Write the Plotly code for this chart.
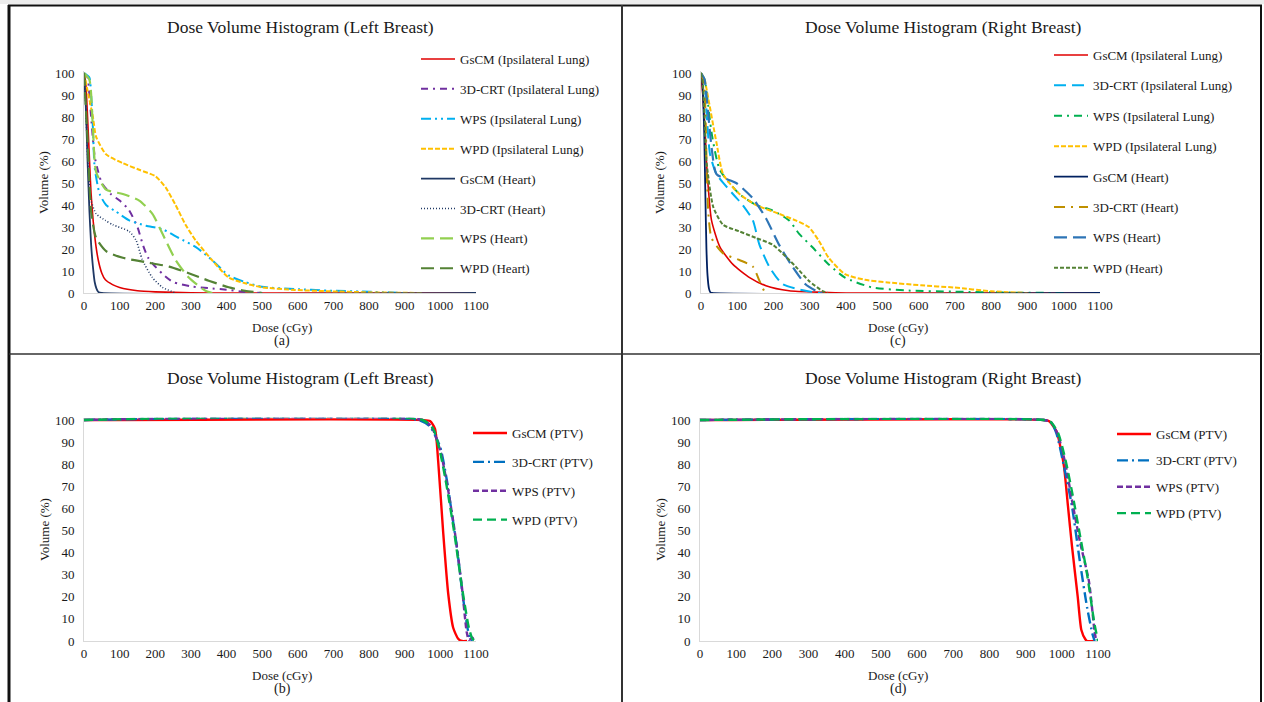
import plotly.graph_objects as go

# ---------------- DATA ----------------
ticks_dose = [0, 100, 200, 300, 400, 500, 600, 700, 800, 900, 1000, 1100]
ticks_vol = [0, 10, 20, 30, 40, 50, 60, 70, 80, 90, 100]

titles = ["Dose Volume Histogram (Left Breast)", "Dose Volume Histogram (Right Breast)",
          "Dose Volume Histogram (Left Breast)", "Dose Volume Histogram (Right Breast)"]
panel_labels = ["(a)", "(c)", "(b)", "(d)"]

names_oar = ["GsCM (Ipsilateral Lung)", "3D-CRT (Ipsilateral Lung)", "WPS (Ipsilateral Lung)",
             "WPD (Ipsilateral Lung)", "GsCM (Heart)", "3D-CRT (Heart)", "WPS (Heart)", "WPD (Heart)"]
names_ptv = ["GsCM (PTV)", "3D-CRT (PTV)", "WPS (PTV)", "WPD (PTV)"]

# (a) left breast, organs at risk
a_gscm_lung_dose = [0, 5, 10, 15, 20, 30, 40, 50, 60, 80, 100, 150, 200, 300, 400, 1100]
a_gscm_lung_vol = [100, 95, 80, 62, 45, 26, 15, 9, 6, 3.8, 2.5, 1, 0.5, 0.1, 0, 0]
a_3dcrt_lung_dose = [0, 10, 15, 20, 25, 30, 40, 50, 75, 100, 125, 150, 165, 180, 200, 225, 250, 300, 350, 400, 450, 500]
a_3dcrt_lung_vol = [100, 98, 90, 80, 70, 62, 55, 50, 45, 42, 38, 30, 22, 16, 12, 8, 5, 3, 2.2, 1.5, 0.5, 0]
a_wps_lung_dose = [0, 15, 20, 25, 30, 44, 62, 90, 127, 174, 220, 266, 313, 359, 406, 452, 499, 592, 684, 800, 900]
a_wps_lung_vol = [100, 98, 90, 75, 57, 45, 40, 37, 33, 30.6, 29, 25, 21, 15, 8, 5, 2.8, 1.8, 1.1, 0.6, 0]
a_wpd_lung_dose = [0, 10, 25, 34, 62, 109, 155, 201, 229, 257, 285, 313, 359, 406, 452, 499, 592, 684, 800, 950]
a_wpd_lung_vol = [100, 92, 80, 71, 63, 59, 56, 53, 48, 40, 31, 24, 15, 7, 4.4, 2.6, 1.4, 0.8, 0.3, 0]
a_gscm_heart_dose = [0, 5, 10, 15, 20, 25, 30, 35, 40, 50, 1100]
a_gscm_heart_vol = [100, 85, 60, 38, 22, 12, 5, 2, 0.5, 0, 0]
a_3dcrt_heart_dose = [0, 5, 11, 20, 34, 60, 81, 127, 146, 164, 192, 220, 257]
a_3dcrt_heart_vol = [100, 85, 60, 42, 36, 33, 31, 28, 24, 15, 7, 2.6, 0]
a_wps_heart_dose = [0, 15, 25, 34, 62, 109, 155, 192, 220, 257, 294, 341, 360]
a_wps_heart_vol = [100, 97, 75, 55, 47, 45, 42, 36, 27, 15, 7, 1, 0]
a_wpd_heart_dose = [0, 10, 20, 34, 62, 109, 174, 239, 294, 350, 406, 452, 500]
a_wpd_heart_vol = [100, 70, 37, 25, 19, 16, 14, 12, 9, 5.6, 2.6, 1, 0]

# (c) right breast, organs at risk
c_gscm_lung_dose = [0, 5, 11, 15, 20, 29, 52, 88, 134, 179, 243, 334, 400, 1100]
c_gscm_lung_vol = [100, 90, 75, 60, 48, 33, 21, 13, 7, 3.3, 1, 0.3, 0, 0]
c_3dcrt_lung_dose = [0, 10, 15, 25, 43, 88, 115, 143, 161, 188, 225, 288, 330]
c_3dcrt_lung_vol = [100, 95, 83, 63, 54, 45, 40, 33, 22, 12, 4, 1, 0]
c_wps_lung_dose = [0, 10, 15, 30, 52, 106, 152, 197, 243, 270, 306, 352, 397, 470, 561, 700, 850, 1000]
c_wps_lung_vol = [100, 97, 92, 72, 56, 45, 40, 37.5, 33, 27, 21, 13, 7, 2.6, 1.2, 0.6, 0.2, 0]
c_wpd_lung_dose = [0, 10, 15, 43, 61, 106, 152, 215, 261, 297, 324, 352, 397, 452, 515, 606, 697, 800, 900]
c_wpd_lung_vol = [100, 97, 93, 68, 54, 45, 40, 36, 33, 30, 24, 16, 8.6, 6, 4.8, 3.5, 2.5, 0.8, 0]
c_gscm_heart_dose = [0, 3, 6, 9, 12, 15, 18, 22, 26, 30, 1100]
c_gscm_heart_vol = [100, 97, 88, 72, 45, 20, 8, 2, 0.3, 0, 0]
c_3dcrt_heart_dose = [0, 5, 11, 16, 20, 29, 61, 106, 143, 161, 174, 180]
c_3dcrt_heart_vol = [100, 97, 88, 55, 37, 25, 18, 15, 12, 5.6, 1, 0]
c_wps_heart_dose = [0, 10, 15, 30, 43, 97, 143, 179, 215, 252, 288, 325, 335]
c_wps_heart_vol = [100, 97, 90, 65, 54, 50, 43, 34, 22, 12, 4, 0.3, 0]
c_wpd_heart_dose = [0, 5, 10, 15, 34, 61, 106, 152, 197, 225, 261, 297, 334, 350]
c_wpd_heart_vol = [100, 95, 80, 60, 39, 31, 28, 25, 22, 18, 12, 5.6, 1, 0]

# (b) left breast, PTV
b_gscm_dose = [0, 950, 971, 985, 994, 1008, 1022, 1036, 1050, 1060, 1075]
b_gscm_vol = [100, 100, 99.5, 96, 81, 49, 21.5, 6, 1, 0, 0]
b_3dcrt_dose = [0, 940, 971, 999, 1018, 1032, 1046, 1060, 1074, 1083, 1090]
b_3dcrt_vol = [100, 100, 97, 88, 73, 58, 43, 24, 8, 1, 0]
b_wps_dose = [0, 950, 975, 1000, 1020, 1040, 1060, 1074, 1080, 1090, 1095]
b_wps_vol = [100, 100, 97, 86, 70, 50, 25, 4, 0.5, 1.5, 0]
b_wpd_dose = [0, 950, 980, 1000, 1020, 1040, 1060, 1080, 1090, 1100]
b_wpd_vol = [100, 100, 96, 85, 68, 48, 25, 6, 1, 0]

# (d) right breast, PTV
d_gscm_dose = [0, 950, 964, 985, 996, 1006, 1017, 1028, 1044, 1054, 1065, 1070, 1090]
d_gscm_vol = [100, 100, 99.5, 95, 88, 79, 61, 43, 20, 5, 0.8, 0, 0]
d_3dcrt_dose = [0, 950, 970, 985, 1006, 1028, 1049, 1070, 1085, 1091]
d_3dcrt_vol = [100, 100, 99, 94, 79, 61, 37, 15, 3, 0]
d_wps_dose = [0, 950, 970, 990, 1010, 1030, 1050, 1075, 1090, 1095]
d_wps_vol = [100, 100, 99, 93, 80, 62, 45, 27, 5, 0]
d_wpd_dose = [0, 950, 970, 990, 1010, 1030, 1050, 1070, 1090, 1100]
d_wpd_vol = [100, 100, 99, 94, 82, 66, 48, 30, 8, 0]

# ---------------- STYLES ----------------
FONT = "Liberation Serif"
W, H = 1264, 702
TXT = "#1a1a1a"

style_a = [("#e00000", "solid", 1.6), ("#7030a0", "7px,5px,2px,5px", 2), ("#00b0f0", "10px,4px,2px,4px,2px,4px", 2),
           ("#ffc000", "5px,2px", 2), ("#1f3864", "solid", 1.8), ("#1f3864", "1px,2px", 1.6),
           ("#92d050", "13px,6px", 2.2), ("#548235", "13px,6px", 2.2)]
style_c = [("#e00000", "solid", 1.6), ("#00b0f0", "12px,6px", 2), ("#00b050", "8px,5px,2px,5px", 2),
           ("#ffc000", "5px,2px", 2), ("#002060", "solid", 1.8), ("#bf9000", "11px,6px,2px,6px", 2),
           ("#2e75b6", "13px,6px", 2.2), ("#548235", "4px,2px", 2)]
style_ptv = [("#ff0000", "solid", 2.4), ("#0070c0", "11px,4px,2px,4px", 2.4), ("#7030a0", "6px,3px", 2.4),
             ("#00b050", "9px,5px", 2.4)]

panel_a = [(a_gscm_lung_dose, a_gscm_lung_vol), (a_3dcrt_lung_dose, a_3dcrt_lung_vol),
           (a_wps_lung_dose, a_wps_lung_vol), (a_wpd_lung_dose, a_wpd_lung_vol),
           (a_gscm_heart_dose, a_gscm_heart_vol), (a_3dcrt_heart_dose, a_3dcrt_heart_vol),
           (a_wps_heart_dose, a_wps_heart_vol), (a_wpd_heart_dose, a_wpd_heart_vol)]
panel_c = [(c_gscm_lung_dose, c_gscm_lung_vol), (c_3dcrt_lung_dose, c_3dcrt_lung_vol),
           (c_wps_lung_dose, c_wps_lung_vol), (c_wpd_lung_dose, c_wpd_lung_vol),
           (c_gscm_heart_dose, c_gscm_heart_vol), (c_3dcrt_heart_dose, c_3dcrt_heart_vol),
           (c_wps_heart_dose, c_wps_heart_vol), (c_wpd_heart_dose, c_wpd_heart_vol)]
panel_b = [(b_gscm_dose, b_gscm_vol), (b_3dcrt_dose, b_3dcrt_vol), (b_wps_dose, b_wps_vol), (b_wpd_dose, b_wpd_vol)]
panel_d = [(d_gscm_dose, d_gscm_vol), (d_3dcrt_dose, d_3dcrt_vol), (d_wps_dose, d_wps_vol), (d_wpd_dose, d_wpd_vol)]

# pixel geometry of each plot area: (x0, x_at_1100, y_at_100, y_at_0)
geom = [(84, 476, 73, 293), (701, 1100, 73, 293), (84, 476, 420, 641), (700, 1098, 420, 641)]
YMAX = 101


def px_x(p):
    return p / W


def px_y(p):
    return 1 - p / H


fig = go.Figure()

panels = [(panel_a, names_oar, style_a, "legend"), (panel_c, names_oar, style_c, "legend2"),
          (panel_b, names_ptv, style_ptv, "legend3"), (panel_d, names_ptv, style_ptv, "legend4")]
for i, (pdata, pnames, pstyle, leg) in enumerate(panels):
    ax = "" if i == 0 else str(i + 1)
    for j, ((xs, ys), nm, (col, dash, wd)) in enumerate(zip(pdata, pnames, pstyle)):
        fig.add_trace(go.Scatter(x=xs, y=ys, name=nm, mode="lines",
                                 line=dict(color=col, dash=dash, width=wd, shape="spline", smoothing=0.6),
                                 xaxis="x" + ax, yaxis="y" + ax, legend=leg,
                                 legendgroup=f"{leg}_{j}"))

layout = dict(width=W, height=H, autosize=False,
              margin=dict(l=0, r=0, t=0, b=0, pad=0, autoexpand=False),
              paper_bgcolor="white", plot_bgcolor="white", template="none",
              font=dict(family=FONT, size=13, color=TXT))

for i, (x0, x1, yt, yb) in enumerate(geom):
    ax = "" if i == 0 else str(i + 1)
    ytop = yb - (yb - yt) * YMAX / 100
    layout["xaxis" + ax] = dict(domain=[px_x(x0), px_x(x1)], range=[0, 1100], tickvals=ticks_dose,
                                showgrid=False, zeroline=False, showline=True, linecolor="#d9d9d9",
                                linewidth=1, ticks="", anchor="y" + ax, fixedrange=True, automargin=False,
                                tickfont=dict(family=FONT, size=13, color=TXT))
    layout["yaxis" + ax] = dict(domain=[px_y(yb), px_y(ytop)], range=[0, YMAX], tickvals=ticks_vol,
                                showgrid=False, zeroline=False, showline=True, linecolor="#d9d9d9",
                                linewidth=1, ticks="", anchor="x" + ax, fixedrange=True, automargin=False,
                                ticklabelstandoff=6, tickfont=dict(family=FONT, size=13, color=TXT))

# legends
leg_pos = [(416, 44, 10), (1049, 40, 10.5), (468, 418, 9), (1112, 419, 6.5)]
for k, (lx, ly, gap) in enumerate(leg_pos):
    key = "legend" if k == 0 else f"legend{k + 1}"
    layout[key] = dict(x=px_x(lx), y=px_y(ly), xanchor="left", yanchor="top", bgcolor="rgba(0,0,0,0)",
                       borderwidth=0, font=dict(family=FONT, size=13, color=TXT), tracegroupgap=gap,
                       itemwidth=34, itemclick=False, itemdoubleclick=False)

fig.update_layout(**layout)
fig.update_layout(showlegend=True)

ann = dict(xref="paper", yref="paper", showarrow=False, xanchor="center", yanchor="middle")

# titles and axis labels as annotations
title_pos = [(300, 27), (943, 27), (300, 378), (943, 378)]
for (tx, ty), t in zip(title_pos, titles):
    fig.add_annotation(text=t, x=px_x(tx), y=px_y(ty), font=dict(family=FONT, size=17.5, color=TXT), **ann)

xlab_pos = [(282, 327), (898, 327), (282, 675), (898, 675)]
for (tx, ty), pl in zip(xlab_pos, panel_labels):
    fig.add_annotation(text="Dose (cGy)", x=px_x(tx), y=px_y(ty), font=dict(family=FONT, size=13, color=TXT), **ann)
    fig.add_annotation(text=pl, x=px_x(tx), y=px_y(ty + 14), font=dict(family=FONT, size=14, color=TXT), **ann)

ylab_pos = [(44, 183), (660, 183), (44, 530), (660, 530)]
for (tx, ty) in ylab_pos:
    fig.add_annotation(text="Volume (%)", x=px_x(tx), y=px_y(ty), textangle=-90,
                       font=dict(family=FONT, size=13, color=TXT), **ann)

# table borders
border = dict(xref="paper", yref="paper", type="line")
fig.add_shape(type="rect", xref="paper", yref="paper", x0=0, x1=1, y0=px_y(0), y1=px_y(4),
              fillcolor="#ededed", line=dict(width=0))
fig.add_shape(**border, x0=px_x(8), x1=px_x(1262), y0=px_y(5.5), y1=px_y(5.5), line=dict(color="#111", width=2))
fig.add_shape(**border, x0=px_x(9), x1=px_x(9), y0=px_y(5), y1=px_y(702), line=dict(color="#111", width=3))
fig.add_shape(**border, x0=px_x(1261), x1=px_x(1261), y0=px_y(5), y1=px_y(702), line=dict(color="#111", width=2))
fig.add_shape(**border, x0=px_x(622), x1=px_x(622), y0=px_y(5), y1=px_y(702), line=dict(color="#333", width=2))
fig.add_shape(**border, x0=px_x(9), x1=px_x(1261), y0=px_y(354), y1=px_y(354), line=dict(color="#333", width=1.3))

page_css = ("document.documentElement.style.margin='0';document.body.style.margin='0';"
            "document.body.style.padding='0';document.documentElement.style.overflow='hidden';"
            "document.body.style.overflow='hidden';")
fig.write_html("out.html", post_script=page_css)
